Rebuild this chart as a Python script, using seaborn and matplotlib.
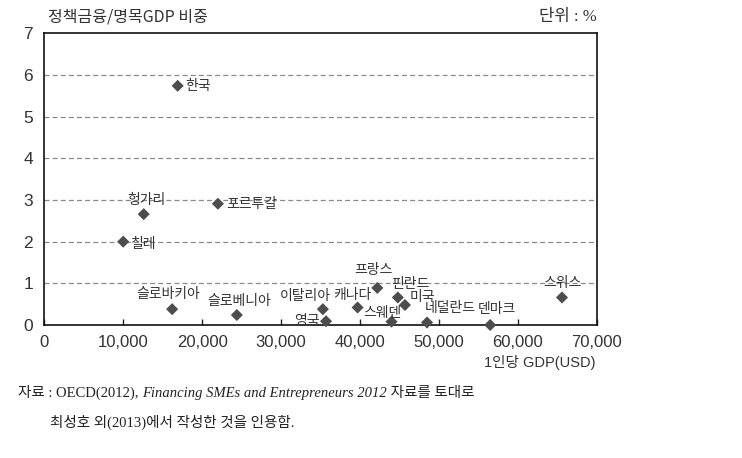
import pandas as pd
import matplotlib.pyplot as plt
import seaborn as sns

# --- DATA ---
countries = ['한국', '헝가리', '포르투갈', '칠레', '슬로바키아', '슬로베니아', '이탈리아', '영국',
             '캐나다', '프랑스', '핀란드', '미국', '스웨덴', '네덜란드', '덴마크', '스위스']
gdp_per_capita = [16900, 12600, 22000, 10000, 16200, 24400, 35300, 35700,
                  39700, 42200, 44800, 45700, 44000, 48500, 56500, 65600]
policy_ratio = [5.74, 2.66, 2.91, 2.00, 0.38, 0.24, 0.38, 0.09,
                0.42, 0.89, 0.66, 0.48, 0.08, 0.06, 0.00, 0.66]
x_ticks = [0, 10000, 20000, 30000, 40000, 50000, 60000, 70000]
y_ticks = [0, 1, 2, 3, 4, 5, 6, 7]

# label placement: (dx px, dy px, ha)
label_pos = {
    '한국': (8, 0, 'left'), '헝가리': (3, 14, 'center'), '포르투갈': (8, 0, 'left'),
    '칠레': (7, -2, 'left'), '슬로바키아': (-4, 15, 'center'), '슬로베니아': (2, 14, 'center'),
    '이탈리아': (-18, 13, 'center'), '영국': (-6, 0, 'right'), '캐나다': (-5, 12, 'center'),
    '프랑스': (-4, 18, 'center'), '핀란드': (12, 13, 'center'), '미국': (5, 8, 'left'),
    '스웨덴': (-9, 9, 'center'), '네덜란드': (-2, 14, 'left'), '덴마크': (7, 16, 'center'),
    '스위스': (0, 14, 'center'),
}

df = pd.DataFrame({'country': countries, 'gdp': gdp_per_capita, 'ratio': policy_ratio})

sns.set_theme(style='white')
plt.rcParams['font.family'] = ['Noto Sans CJK KR', 'DejaVu Sans']
KR = ['Noto Sans CJK KR', 'DejaVu Sans']
NUM = ['Liberation Sans', 'DejaVu Sans']
SERIF = ['Liberation Serif', 'Noto Sans CJK KR']
PX = 72 / 100

fig = plt.figure(figsize=(7.42, 4.58), dpi=100)
ax = fig.add_axes([0.0597, 0.2904, 0.7445, 0.6369])

sns.scatterplot(data=df, x='gdp', y='ratio', marker='D', s=38, color='#4d4d4d',
                edgecolor='none', ax=ax, clip_on=False, zorder=3)

for _, r in df.iterrows():
    dx, dy, ha = label_pos[r['country']]
    ax.annotate(r['country'], (r['gdp'], r['ratio']), xytext=(dx * PX, dy * PX),
                textcoords='offset points', ha=ha, va='center', fontsize=10,
                color='#333333', family=KR, zorder=4)

ax.set_xlim(0, 70000)
ax.set_ylim(0, 7)
ax.set_xticks(x_ticks)
ax.set_xticklabels([f'{v:,}' if v else '0' for v in x_ticks], family=NUM, fontsize=12, color='#333333')
ax.set_yticks(y_ticks)
ax.set_yticklabels([str(v) for v in y_ticks], family=NUM, fontsize=12.5, color='#333333')
ax.tick_params(axis='x', direction='in', length=4, width=1, color='#222222', pad=7, bottom=True)
ax.tick_params(axis='y', length=0, pad=8)
for v in y_ticks[1:-1]:
    ax.axhline(v, color='#8a8a8a', lw=0.9, ls=(0, (4, 2.5)), zorder=1)
for s in ax.spines.values():
    s.set_visible(True)
    s.set_color('#111111')
    s.set_linewidth(1.2)
ax.set_xlabel('')
ax.set_ylabel('')
ax.grid(False)

fig.text(48 / 742, 1 - 17 / 458, '정책금융/명목GDP 비중', ha='left', va='center',
         fontsize=11.5, color='#333333', family=KR)
fig.text(597 / 742, 1 - 17 / 458, '단위 : %', ha='right', va='center',
         fontsize=12, color='#333333', family=SERIF)
fig.text(596 / 742, 1 - 362 / 458, '1인당 GDP(USD)', ha='right', va='center',
         fontsize=10.5, color='#333333', family=NUM + ['Noto Sans CJK KR'])

# caption with italic title part
CAP = 10.5
t1 = fig.text(18 / 742, 1 - 397 / 458, '자료 : OECD(2012), ', ha='left', va='baseline',
              fontsize=CAP, color='#222222', family=SERIF)
t2 = ax.annotate('Financing SMEs and Entrepreneurs 2012', xy=(1, 0), xycoords=t1,
                 ha='left', va='bottom', fontsize=CAP, style='italic', color='#222222',
                 family='Liberation Serif', annotation_clip=False)
ax.annotate(' 자료를 토대로', xy=(1, 0), xycoords=t2, ha='left', va='bottom',
            fontsize=CAP, color='#222222', family=SERIF, annotation_clip=False)
fig.text(50 / 742, 1 - 427 / 458, '최성호 외(2013)에서 작성한 것을 인용함.', ha='left', va='baseline',
         fontsize=CAP, color='#222222', family=SERIF)

fig.savefig('out.png', dpi=100)
